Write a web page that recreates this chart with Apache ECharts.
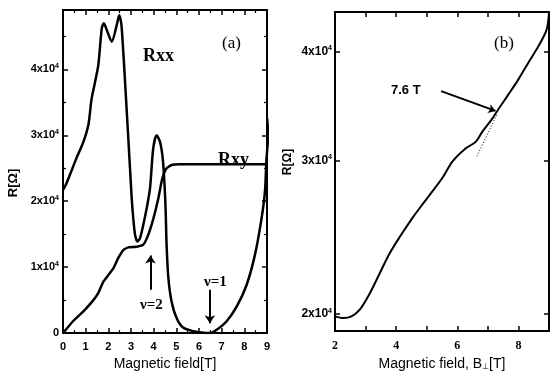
<!DOCTYPE html>
<html><head><meta charset="utf-8">
<script src="https://cdn.jsdelivr.net/npm/echarts@6/dist/echarts.min.js"></script>
<style>html,body{margin:0;padding:0;background:#fff}#c{width:555px;height:376px}</style>
</head><body><div id="c"></div>
<script>
// ---- Panel (a) data ----
const rxxField = [0,0.15,0.59,0.9,1.12,1.26,1.41,1.56,1.71,1.8,1.96,2.15,2.37,2.48,2.58,2.78,2.98,3.03,3.1,3.18,3.28,3.4,3.54,3.69,3.84,3.98,4.13,4.28,4.4,4.48,4.53,4.57,4.65,4.79,5.01,5.31,5.75,6.2,6.5,6.78,7.22,7.66,8.1,8.47,8.76,8.91,8.98,9.13];
const rxxValues = [21700,22700,26500,29000,31600,35500,38000,40700,46200,47000,45700,44200,46700,48200,46700,35600,23500,20500,17400,14900,13900,14400,16400,18900,22000,28000,30000,29000,26500,22500,18400,13400,8300,4800,2300,800,300,50,0,500,1800,4000,7300,11900,17400,21500,26500,32600];
const rxyField = [0,0.44,0.9,1.34,1.56,1.78,2.0,2.22,2.44,2.66,2.88,3.25,3.54,3.76,3.99,4.21,4.35,4.43,4.57,4.79,5.15,9];
const rxyValues = [0,1800,3300,5000,6100,7800,8800,9800,11400,12600,13000,13100,13400,14900,17400,20500,23000,24000,25000,25500,25600,25600];
const ticksA = [0,10000,20000,30000,40000];

// ---- Panel (b) data ----
const bField = [2.0,2.27,2.54,2.81,3.14,3.46,3.78,4.11,4.54,4.86,5.19,5.51,5.84,6.27,6.6,6.81,7.14,7.35,7.68,8.0,8.32,8.65,8.92,9.0];
const bValues = [19880,19790,19880,20230,21130,22260,23450,24490,25800,26710,27660,28640,29910,30960,31510,32330,33480,34370,35740,37160,38810,40540,42350,44300];
const fitField = [6.64,7.29];
const fitValues = [30330,33830];
const ticksB = [20000,30000,40000];

const zip = (xs, ys, f) => xs.map((x, i) => [x, f ? f(ys[i]) : ys[i]]);
const lg = Math.log10;

const supLabel = (v) => v === 0 ? '{a|0}' : '{a|' + Math.round(v / 1e4) + 'x10}{s|4}';
const richA = (fs) => ({
  a: {fontFamily: 'Liberation Sans', fontWeight: 'bold', fontSize: fs, color: '#000', lineHeight: fs + 2},
  s: {fontFamily: 'Liberation Sans', fontWeight: 'bold', fontSize: Math.round(fs * 0.6), color: '#000', verticalAlign: 'top', lineHeight: fs + 2}
});

const axisLineS = {show: true, onZero: false, lineStyle: {color: '#000', width: 2}};
const tickS = {show: true, inside: true, length: 5, lineStyle: {color: '#000', width: 1.5}};
const minorS = {show: true, splitNumber: 2, length: 3, lineStyle: {color: '#000', width: 1.2}};

const chart = echarts.init(document.getElementById('c'), null, {renderer: 'canvas'});

const option = {
  animation: false,
  backgroundColor: '#fff',
  grid: [
    {left: 63, right: 288, top: 10, bottom: 41},
    {left: 335, right: 6, top: 12, bottom: 41}
  ],
  xAxis: [
    {gridIndex: 0, type: 'value', min: 0, max: 9, interval: 1, position: 'bottom',
     axisLine: axisLineS, axisTick: tickS, minorTick: minorS, splitLine: {show: false},
     axisLabel: {margin: 8, fontFamily: 'Liberation Sans', fontWeight: 'bold', fontSize: 11, color: '#000'},
     name: 'Magnetic field[T]', nameLocation: 'middle', nameGap: 23,
     nameTextStyle: {fontFamily: 'Liberation Sans', fontSize: 14, color: '#000'}},
    {gridIndex: 0, type: 'value', min: 0, max: 9, interval: 1, position: 'top',
     axisLine: axisLineS, axisTick: tickS, minorTick: minorS, splitLine: {show: false}, axisLabel: {show: false}},
    {gridIndex: 1, type: 'value', min: 2, max: 9, interval: 1, position: 'bottom',
     axisLine: axisLineS, axisTick: tickS, splitLine: {show: false},
     axisLabel: {margin: 9, fontFamily: 'Liberation Serif', fontWeight: 'bold', fontSize: 12, color: '#000',
       formatter: v => (v % 2 === 0 && v < 9) ? String(v) : ''},
     name: '{n|Magnetic field, B}{u|⊥}{n|[T]}', nameLocation: 'middle', nameGap: 21,
     nameTextStyle: {rich: {
       n: {fontFamily: 'Liberation Sans', fontSize: 14, color: '#000'},
       u: {fontFamily: 'Liberation Sans', fontSize: 8, color: '#000', verticalAlign: 'bottom'}
     }}},
    {gridIndex: 1, type: 'value', min: 2, max: 9, interval: 1, position: 'top',
     axisLine: axisLineS, axisTick: tickS, splitLine: {show: false}, axisLabel: {show: false}}
  ],
  yAxis: [
    {gridIndex: 0, type: 'value', min: 0, max: 49000, interval: 10000, position: 'left',
     axisLine: axisLineS, axisTick: tickS, minorTick: minorS, splitLine: {show: false},
     axisLabel: {margin: 4, showMaxLabel: false, formatter: supLabel, rich: richA(11)}},
    {gridIndex: 0, type: 'value', min: 0, max: 49000, interval: 10000, position: 'right',
     axisLine: axisLineS, axisTick: tickS, minorTick: minorS, splitLine: {show: false}, axisLabel: {show: false}},
    {gridIndex: 1, type: 'value', min: 4.2815, max: 4.6473, position: 'left',
     axisLine: axisLineS,
     axisTick: Object.assign({}, tickS, {customValues: ticksB.map(lg)}),
     splitLine: {show: false},
     axisLabel: {margin: 3, customValues: ticksB.map(lg), formatter: v => supLabel(Math.pow(10, v)), rich: richA(12)}},
    {gridIndex: 1, type: 'value', min: 4.2815, max: 4.6473, position: 'right',
     axisLine: axisLineS,
     axisTick: Object.assign({}, tickS, {customValues: ticksB.map(lg)}),
     splitLine: {show: false}, axisLabel: {show: false}}
  ],
  series: [
    {type: 'line', name: 'Rxx', xAxisIndex: 0, yAxisIndex: 0, data: zip(rxxField, rxxValues),
     showSymbol: false, smooth: 0.25, clip: true, lineStyle: {color: '#000', width: 2.5},
     markLine: {silent: true, symbol: ['none', 'arrow'], symbolSize: 8, label: {show: false},
       lineStyle: {color: '#000', width: 2, type: 'solid'},
       data: [
         [{coord: [3.86, 6560]}, {coord: [3.86, 11770]}],
         [{coord: [6.48, 6560]}, {coord: [6.48, 1500]}]
       ]}},
    {type: 'line', name: 'Rxy', xAxisIndex: 0, yAxisIndex: 0, data: zip(rxyField, rxyValues),
     showSymbol: false, smooth: 0.15, clip: true, lineStyle: {color: '#000', width: 2.5}},
    {type: 'line', name: 'R', xAxisIndex: 2, yAxisIndex: 2, data: zip(bField, bValues, lg),
     showSymbol: false, smooth: 0.3, clip: true, lineStyle: {color: '#000', width: 2},
     markLine: {silent: true, symbol: ['none', 'arrow'], symbolSize: 7, label: {show: false},
       lineStyle: {color: '#000', width: 2, type: 'solid'},
       data: [[{coord: [5.47, lg(36020)]}, {coord: [7.25, lg(34190)]}]]}},
    {type: 'line', name: 'fit', xAxisIndex: 2, yAxisIndex: 2, data: zip(fitField, fitValues, lg),
     showSymbol: false, lineStyle: {color: '#000', width: 1, type: [1, 2]}}
  ],
  graphic: [
    {type: 'text', left: 143, top: 47, style: {text: 'Rxx', font: 'bold 18px "Liberation Serif"', fill: '#000'}},
    {type: 'text', left: 222, top: 35, style: {text: '(a)', font: '17px "Liberation Serif"', fill: '#000'}},
    {type: 'text', left: 218, top: 151, style: {text: 'Rxy', font: 'bold 18px "Liberation Serif"', fill: '#000'}},
    {type: 'text', left: 140, top: 298, style: {text: 'ν=2', font: 'bold 15px "Liberation Serif"', fill: '#000'}},
    {type: 'text', left: 204, top: 275, style: {text: 'ν=1', font: 'bold 15px "Liberation Serif"', fill: '#000'}},
    {type: 'text', left: 494, top: 35, style: {text: '(b)', font: '17px "Liberation Serif"', fill: '#000'}},
    {type: 'text', left: 391, top: 84, style: {text: '7.6 T', font: 'bold 13px "Liberation Sans"', fill: '#000'}},
    {type: 'text', x: 13, y: 183, rotation: Math.PI / 2, style: {text: 'R[Ω]', font: 'bold 13px "Liberation Sans"', fill: '#000', align: 'center', verticalAlign: 'middle'}},
    {type: 'text', x: 288, y: 162, rotation: Math.PI / 2, style: {text: 'R[Ω]', font: 'bold 12px "Liberation Sans"', fill: '#000', align: 'center', verticalAlign: 'middle'}}
  ]
};
chart.setOption(option);
</script>
</body></html>
